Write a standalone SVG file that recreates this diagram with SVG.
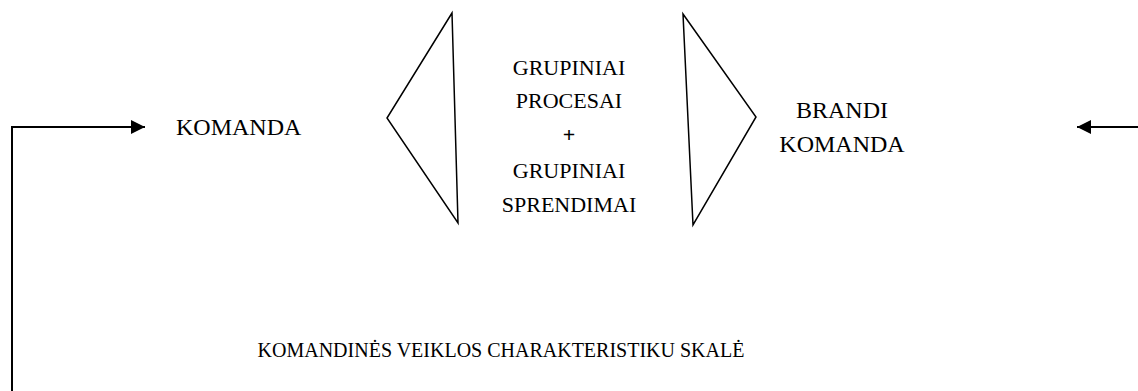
<svg xmlns="http://www.w3.org/2000/svg" width="1138" height="391" viewBox="0 0 1138 391">
<style>
text{font-family:"Liberation Serif",serif;fill:#000}
.c{text-anchor:middle}
.t24{font-size:24px}
.t22{font-size:22px}
.t20{font-size:20px}
.ln{fill:none;stroke:#000;stroke-width:2}
.tri{fill:none;stroke:#000;stroke-width:1.5}
</style>
<defs>
<marker id="ah" markerWidth="14" markerHeight="14" refX="14" refY="7" orient="auto" markerUnits="userSpaceOnUse">
<path d="M0,0 L14,7 L0,14 Z" fill="#000"/>
</marker>
</defs>
<rect width="1138" height="391" fill="#fff"/>
<g id="connectors">
<polyline class="ln" points="12,391 12,127 145,127" marker-end="url(#ah)"/>
<line class="ln" x1="1138" y1="127" x2="1077" y2="127" marker-end="url(#ah)"/>
</g>
<g id="komanda"><text class="t24" x="176" y="135">KOMANDA</text></g>
<g id="left-bracket"><polygon class="tri" points="452,13 387,118 458,223"/></g>
<g id="grupiniai">
<text class="c t22" x="569" y="75">GRUPINIAI</text>
<text class="c t22" x="569" y="108">PROCESAI</text>
<text class="c t22" x="569" y="142" font-weight="bold">+</text>
<text class="c t22" x="569" y="178">GRUPINIAI</text>
<text class="c t22" x="569" y="212">SPRENDIMAI</text>
</g>
<g id="right-bracket"><polygon class="tri" points="683,14 756,117 693,225"/></g>
<g id="brandi-komanda">
<text class="c t24" x="842" y="118">BRANDI</text>
<text class="c t24" x="842" y="152">KOMANDA</text>
</g>
<g id="scale"><text class="c t20" x="501" y="357">KOMANDINĖS VEIKLOS CHARAKTERISTIKU SKALĖ</text></g>
</svg>
